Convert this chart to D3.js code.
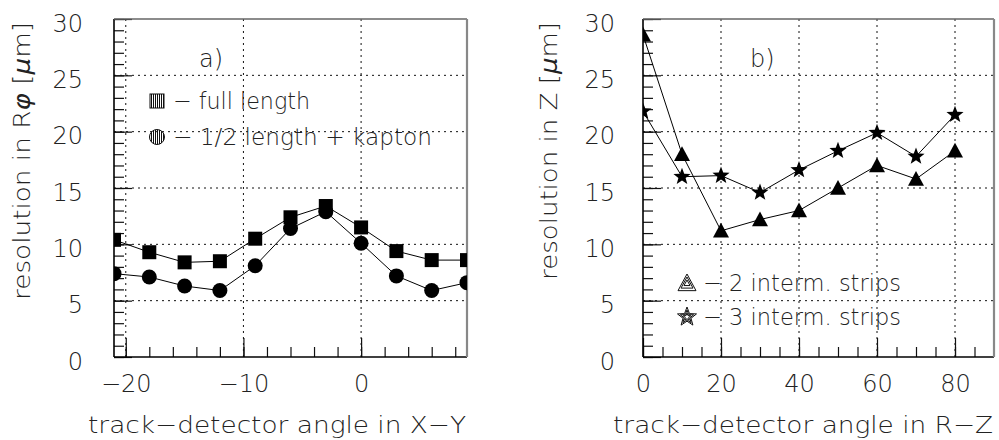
<!DOCTYPE html>
<html>
<head>
<meta charset="utf-8">
<script src="https://cdn.jsdelivr.net/npm/d3@7"></script>
<style>
  body { margin: 0; background: #fff; }
  text { font-family: "DejaVu Sans", sans-serif; font-weight: 200; fill: #222; }
</style>
</head>
<body>
<svg id="chart"></svg>
<script>
// values
var angleXY = [-21, -18, -15, -12, -9, -6, -3, 0, 3, 6, 9];
var fullLength = [10.4, 9.3, 8.4, 8.5, 10.5, 12.4, 13.4, 11.5, 9.4, 8.6, 8.6];
var halfKapton = [7.4, 7.1, 6.3, 5.9, 8.1, 11.4, 12.9, 10.1, 7.2, 5.9, 6.6];

var angleRZ = [0, 10, 20, 30, 40, 50, 60, 70, 80];
var twoStrips = [28.6, 18.0, 11.2, 12.2, 13.0, 15.0, 17.0, 15.8, 18.3];
var threeStrips = [21.8, 16.0, 16.1, 14.6, 16.6, 18.3, 19.9, 17.8, 21.5];

var yTicks = [0, 5, 10, 15, 20, 25, 30];
var xTicksXY = [-20, -10, 0];
var xTicksRZ = [0, 20, 40, 60, 80];

var width = 999;
var height = 440;
var fs = 23;      // titles, legend
var tickFs = 24;  // tick labels

var svg = d3.select("#chart")
    .attr("width", width)
    .attr("height", height);

// hatch pattern for the legend markers
var defs = svg.append("defs");
defs.append("pattern")
    .attr("id", "vhatch")
    .attr("patternUnits", "userSpaceOnUse")
    .attr("width", 2).attr("height", 2)
  .append("rect")
    .attr("width", 1).attr("height", 2)
    .attr("fill", "#111");

function starPath(r1, r2) {
    var pts = [];
    for (var i = 0; i < 10; i++) {
        var a = -Math.PI / 2 + i * Math.PI / 5;
        var r = i % 2 === 0 ? r1 : r2;
        pts.push([r * Math.cos(a), r * Math.sin(a)]);
    }
    return "M" + pts.join("L") + "Z";
}
function triPath(s) {
    return "M0," + (-s) + "L" + s + "," + (s * 0.85) + "L" + (-s) + "," + (s * 0.85) + "Z";
}

var markers = {
    square: function(g) { g.append("rect").attr("x", -7).attr("y", -7).attr("width", 14).attr("height", 14).attr("fill", "#000"); },
    circle: function(g) { g.append("circle").attr("r", 7.5).attr("fill", "#000"); },
    triangle: function(g) { g.append("path").attr("d", triPath(8)).attr("fill", "#000"); },
    star: function(g) { g.append("path").attr("d", starPath(9, 3.8)).attr("fill", "#000"); }
};

var legendMarkers = {
    square: function(g) {
        g.append("rect").attr("x", -7).attr("y", -7).attr("width", 14).attr("height", 14)
            .attr("fill", "url(#vhatch)").attr("stroke", "#111").attr("stroke-width", 1);
    },
    circle: function(g) {
        g.append("circle").attr("r", 7.5)
            .attr("fill", "url(#vhatch)").attr("stroke", "#111").attr("stroke-width", 1);
    },
    triangle: function(g) {
        [9, 6, 3].forEach(function(s) {
            g.append("path").attr("d", triPath(s)).attr("fill", "none").attr("stroke", "#111").attr("stroke-width", 1);
        });
    },
    star: function(g) {
        [[10, 4.2], [7, 2.9], [4, 1.7]].forEach(function(s) {
            g.append("path").attr("d", starPath(s[0], s[1])).attr("fill", "none").attr("stroke", "#111").attr("stroke-width", 1);
        });
    }
};

var panels = [
    {
        id: "a",
        left: 114, right: 467, top: 19, bottom: 357,
        xDomain: [-21, 9],
        xs: angleXY,
        xMajor: xTicksXY,
        xMinor: d3.range(-20, 9, 2),
        gridX: [-20, -10, 0],
        labelPad: 31,
        tag: "a)", tagX: 199,
        ytitle: ["resolution in R", "φ", " [", "μ", "m]"],
        ytitleX: 30, ytitleLen: 278,
        xtitle: "track−detector angle in X−Y", xtitleLen: 378,
        series: [
            { values: fullLength, marker: "square", label: "− full length", lx: 157, ly: 101, tlen: 137 },
            { values: halfKapton, marker: "circle", label: "− 1/2 length + kapton", lx: 157, ly: 137, tlen: 259 }
        ]
    },
    {
        id: "b",
        left: 643, right: 994, top: 19, bottom: 357,
        xDomain: [0, 90],
        xs: angleRZ,
        xMajor: xTicksRZ,
        xMinor: d3.range(0, 90, 5),
        gridX: [20, 40, 60, 80],
        labelPad: 28,
        tag: "b)", tagX: 750,
        ytitle: ["resolution in Z [", "μ", "m]"],
        ytitleX: 557, ytitleLen: 258,
        xtitle: "track−detector angle in R−Z", xtitleLen: 380,
        series: [
            { values: twoStrips, marker: "triangle", label: "− 2 interm. strips", lx: 687, ly: 283, tlen: 198 },
            { values: threeStrips, marker: "star", label: "− 3 interm. strips", lx: 687, ly: 317, tlen: 198 }
        ]
    }
];

panels.forEach(function(p) {
    var x = d3.scaleLinear().domain(p.xDomain).range([p.left, p.right]);
    var y = d3.scaleLinear().domain([0, 30]).range([p.bottom, p.top]);
    var g = svg.append("g");

    // dotted grid
    g.selectAll(".hgrid")
        .data([5, 10, 15, 20, 25])
        .enter().append("line")
        .attr("x1", p.left).attr("x2", p.right)
        .attr("y1", d => y(d)).attr("y2", d => y(d))
        .attr("stroke", "#111").attr("stroke-width", 1).attr("stroke-dasharray", "2,4");
    g.selectAll(".vgrid")
        .data(p.gridX)
        .enter().append("line")
        .attr("x1", d => x(d)).attr("x2", d => x(d))
        .attr("y1", p.top).attr("y2", p.bottom)
        .attr("stroke", "#111").attr("stroke-width", 1).attr("stroke-dasharray", "2,4");

    // minor ticks
    var yMinor = g.append("g")
        .attr("transform", "translate(" + p.left + ",0)")
        .call(d3.axisLeft(y).tickValues(d3.range(0, 31)).tickSize(-10).tickFormat(""));
    var xMinor = g.append("g")
        .attr("transform", "translate(0," + p.bottom + ")")
        .call(d3.axisBottom(x).tickValues(p.xMinor).tickSize(-10).tickFormat(""));

    // major ticks with labels
    var yAxis = g.append("g")
        .attr("transform", "translate(" + p.left + ",0)")
        .call(d3.axisLeft(y).tickValues(yTicks).tickSize(-18).tickPadding(p.labelPad));
    var xAxis = g.append("g")
        .attr("transform", "translate(0," + p.bottom + ")")
        .call(d3.axisBottom(x).tickValues(p.xMajor).tickSize(-19).tickPadding(18));

    [yMinor, xMinor, yAxis, xAxis].forEach(function(a) {
        a.select(".domain").remove();
        a.selectAll("line").attr("stroke", "#111").attr("stroke-width", 1.2);
        a.selectAll("text")
            .attr("font-family", null)
            .attr("font-size", tickFs)
            .attr("fill", "#222");
    });
    yAxis.selectAll("text").attr("dy", "0.5em");

    // frame
    g.append("line").attr("x1", p.left).attr("x2", p.left).attr("y1", p.top).attr("y2", p.bottom)
        .attr("stroke", "#000").attr("stroke-width", 1.6);
    g.append("line").attr("x1", p.left).attr("x2", p.right).attr("y1", p.bottom).attr("y2", p.bottom)
        .attr("stroke", "#000").attr("stroke-width", 1.6);
    g.append("line").attr("x1", p.left).attr("x2", p.right).attr("y1", p.top).attr("y2", p.top)
        .attr("stroke", "#666").attr("stroke-width", 1.6);
    g.append("line").attr("x1", p.right).attr("x2", p.right).attr("y1", p.top).attr("y2", p.bottom)
        .attr("stroke", "#888").attr("stroke-width", 2.2);

    // data, clipped to the frame
    defs.append("clipPath").attr("id", "clip-" + p.id)
      .append("rect")
        .attr("x", p.left).attr("y", p.top)
        .attr("width", p.right - p.left).attr("height", p.bottom - p.top);
    var plot = g.append("g").attr("clip-path", "url(#clip-" + p.id + ")");

    var line = d3.line().x(d => x(d[0])).y(d => y(d[1]));
    p.series.forEach(function(s) {
        var pts = p.xs.map((v, i) => [v, s.values[i]]);
        plot.append("path")
            .attr("d", line(pts))
            .attr("fill", "none")
            .attr("stroke", "#000")
            .attr("stroke-width", 1);
        plot.selectAll(null)
            .data(pts)
            .enter().append("g")
            .attr("transform", d => "translate(" + x(d[0]) + "," + y(d[1]) + ")")
            .each(function() { markers[s.marker](d3.select(this)); });

        // legend
        var lg = g.append("g").attr("transform", "translate(" + s.lx + "," + s.ly + ")");
        legendMarkers[s.marker](lg);
        lg.append("text")
            .attr("x", 16).attr("y", 7.5)
            .attr("font-size", fs)
            .attr("textLength", s.tlen)
            .attr("lengthAdjust", "spacingAndGlyphs")
            .text(s.label);
    });

    // panel tag
    g.append("text")
        .attr("x", p.tagX).attr("y", 67)
        .attr("font-size", tickFs)
        .text(p.tag);

    // axis titles
    var yt = g.append("text")
        .attr("transform", "translate(" + p.ytitleX + ",22) rotate(-90)")
        .attr("text-anchor", "end")
        .attr("font-size", fs)
        .attr("textLength", p.ytitleLen)
        .attr("lengthAdjust", "spacingAndGlyphs");
    p.ytitle.forEach(function(part) {
        yt.append("tspan")
            .attr("font-style", (part === "φ" || part === "μ") ? "italic" : null)
            .text(part);
    });

    g.append("text")
        .attr("x", p.right - 1).attr("y", 433)
        .attr("text-anchor", "end")
        .attr("font-size", fs)
        .attr("textLength", p.xtitleLen)
        .attr("lengthAdjust", "spacingAndGlyphs")
        .text(p.xtitle);
});
</script>
</body>
</html>
